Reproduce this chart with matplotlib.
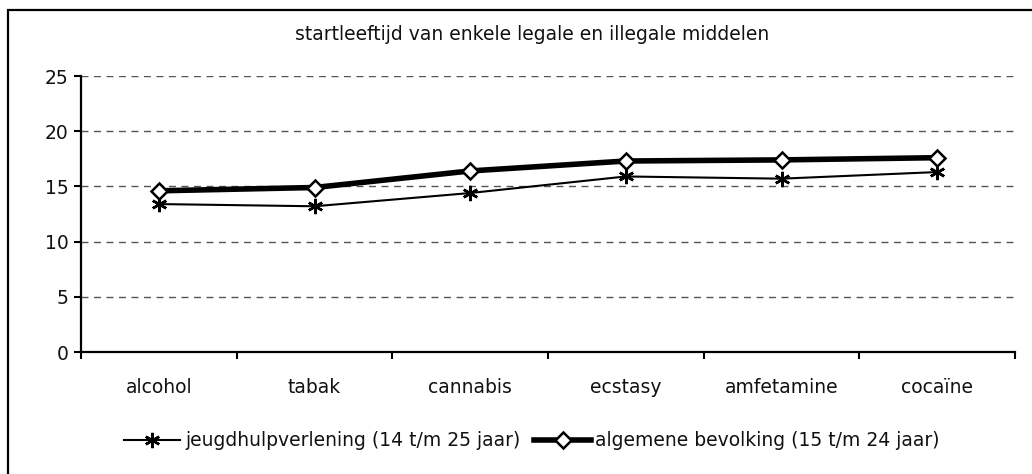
import matplotlib

matplotlib.use("Agg")
import matplotlib.pyplot as plt
from matplotlib.patches import Rectangle

plt.rcParams["font.family"] = ["DejaVu Sans"]
FS = 13.5

categories = ["alcohol", "tabak", "cannabis", "ecstasy", "amfetamine", "cocaïne"]
jeugd = [13.4, 13.2, 14.4, 15.9, 15.7, 16.3]
algemeen = [14.6, 14.9, 16.4, 17.3, 17.4, 17.6]
label_jeugd = "jeugdhulpverlening (14 t/m 25 jaar)"
label_alg = "algemene bevolking (15 t/m 24 jaar)"
title = "startleeftijd van enkele legale en illegale middelen"

W, H = 1032, 474
fig = plt.figure(figsize=(W / 100, H / 100), dpi=100)
ax = fig.add_axes([81 / W, 1 - 352 / H, (1015 - 81) / W, (352 - 76) / H])

# outer chart frame (runs off the right/bottom edge like the original)
fig.patches.append(Rectangle((8 / W, -0.05), 1.2, 1 - 10 / H + 0.05,
                             transform=fig.transFigure, fill=False,
                             lw=1.6, ec="black"))

x = list(range(len(categories)))
ax.plot(x, jeugd, color="black", lw=1.5, marker=(6, 2, 0), ms=11, mew=1.8,
        label=label_jeugd)
ax.plot(x, algemeen, color="black", lw=4, marker="D", ms=8, mfc="white",
        mec="black", mew=1.8, label=label_alg)

ax.set_xlim(-0.5, len(categories) - 0.5)
ax.set_ylim(0, 25)
ax.set_yticks([0, 5, 10, 15, 20, 25])
ax.set_xticks(x, categories)
ax.set_xticks([i - 0.5 for i in range(len(categories) + 1)], minor=True)
ax.tick_params(axis="x", which="major", length=0, pad=19, labelsize=FS,
               labelcolor="#111111")
ax.tick_params(axis="x", which="minor", length=5, width=1.5, direction="out")
ax.tick_params(axis="y", length=5, width=1.5, direction="out", labelsize=FS,
               pad=4, labelcolor="#111111")
for s in ("top", "right"):
    ax.spines[s].set_visible(False)
for s in ("left", "bottom"):
    ax.spines[s].set_linewidth(1.6)
ax.yaxis.grid(True, ls=(0, (5, 4)), color="#555555", lw=1)
ax.set_axisbelow(True)

fig.text(532 / W, 1 - 35 / H, title, ha="center", va="center", fontsize=FS,
         color="#111111")
fig.legend(loc="center", bbox_to_anchor=(532 / W, 1 - 441 / H), ncol=2,
           frameon=False, fontsize=FS, handlelength=3.0, handletextpad=0.25,
           columnspacing=0.75, borderpad=0, borderaxespad=0,
           labelcolor="#111111")

fig.savefig("out.png", dpi=100)
